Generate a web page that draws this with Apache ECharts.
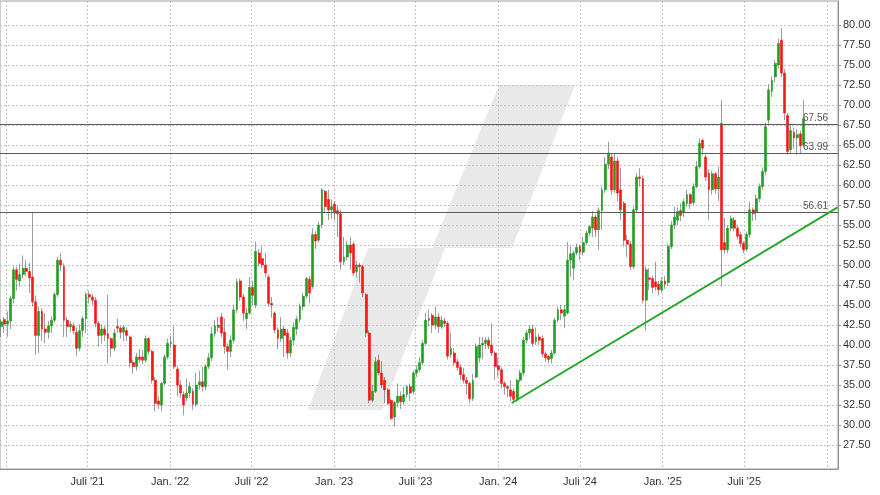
<!DOCTYPE html>
<html><head><meta charset="utf-8">
<script src="https://cdn.jsdelivr.net/npm/echarts@6/dist/echarts.min.js"></script>
<style>html,body{margin:0;padding:0;background:#fff}#c{width:880px;height:495px}</style>
</head><body><div id="c"></div>
<script>
// weekly candles, first week starting Monday 2020-12-21; rows are [open, high, low, close]
const firstWeek = '2020-12-21';
const candles2021 = [
[42.3,43.2,41.0,42.9],[43.2,43.5,41.5,42.6],[42.6,44.2,41.0,43.0],[43.0,46.2,42.0,45.8],[45.8,49.8,45.2,49.4],
[49.4,49.8,46.8,48.2],[48.0,50.2,47.3,48.8],[48.8,51.2,48.3,49.6],[49.6,50.6,48.6,49.2],[49.2,50.3,46.5,48.4],
[48.5,56.5,44.8,45.4],[45.4,46.2,38.8,41.2],[41.2,44.8,39.0,44.2],[44.2,44.6,40.5,42.0],[42.0,44.0,40.2,41.6],
[41.6,43.0,40.8,42.4],[42.4,43.6,41.5,43.1],[43.1,46.6,42.8,46.3],[46.3,51.0,46.0,50.6],[50.6,51.5,49.3,50.0],
[49.8,50.2,41.0,43.1],[43.1,43.5,41.0,42.3],[42.3,43.0,41.6,42.6],[42.4,42.8,41.3,41.8],[41.6,42.2,38.6,39.6],
[39.6,42.6,39.2,41.8],[41.8,43.6,41.0,43.3],[43.3,46.6,41.5,46.3],[46.3,46.8,45.2,46.0],[46.0,46.4,45.0,45.6],
[45.6,46.0,42.2,42.7],[42.7,43.0,39.8,41.2],[41.2,42.6,40.2,42.0],[42.0,42.4,40.5,41.3],[41.4,46.3,37.7,40.8],
[40.8,41.0,38.5,39.6],[39.6,42.0,39.2,41.5],[42.3,43.3,41.5,42.1],[42.1,42.4,40.8,41.6],[41.6,42.5,40.5,42.2],
[41.8,42.2,40.5,41.2],[41.0,41.2,37.2,37.8],[37.8,38.2,36.4,37.3],[37.3,39.0,36.8,38.5],[38.5,39.5,37.8,38.2],
[38.5,39.4,37.6,38.1],[38.1,41.2,37.8,40.8],[40.8,41.0,38.8,39.2],[39.2,39.4,35.2,35.6],[35.6,36.0,31.7,32.7],
[33.0,33.6,32.0,32.6],[32.5,35.4,31.7,35.2],[35.2,38.8,35.0,38.5],[38.5,40.8,38.2,40.2]
];
const candles2022 = [
[40.2,41.2,39.6,40.3],[40.0,42.3,37.0,37.3],[37.0,37.3,33.6,35.0],[35.0,35.6,33.4,34.0],[33.8,34.2,31.2,32.5],
[33.4,35.8,33.0,34.0],[34.0,35.4,33.4,34.8],[34.2,34.6,31.9,32.6],[32.6,36.5,32.3,35.0],[35.0,36.8,34.4,35.4],
[35.4,37.3,34.2,34.8],[34.8,37.6,34.4,37.3],[37.3,39.0,37.0,38.4],[38.4,42.3,38.0,41.4],[41.4,43.1,41.0,42.4],
[42.2,43.5,41.6,42.5],[43.5,44.0,41.0,41.5],[41.6,43.3,38.9,39.8],[39.8,40.2,36.9,39.2],[39.2,41.2,38.5,40.6],
[40.6,45.0,40.2,44.4],[44.4,48.3,44.0,47.9],[48.0,48.3,45.5,46.0],[46.0,46.4,43.0,44.0],[43.3,44.6,42.0,44.0],
[44.0,48.5,43.8,47.2],[47.2,48.0,45.0,46.2],[45.0,52.9,44.6,51.7],[51.5,52.0,49.8,50.2],[50.8,52.3,49.6,50.0],
[50.0,51.5,48.5,49.0],[48.5,48.8,44.8,45.2],[45.2,46.0,43.4,45.0],[44.0,44.2,41.5,41.9],[41.9,42.2,39.5,40.8],
[40.8,43.5,40.4,42.0],[42.0,42.4,38.5,41.2],[41.5,42.0,38.3,39.0],[39.0,41.0,38.5,40.6],[40.6,42.8,40.0,42.2],
[42.0,43.6,41.2,43.2],[43.2,45.2,42.8,44.8],[44.8,46.5,44.3,46.1],[46.1,48.5,45.8,48.3],[48.2,48.6,45.2,46.5],
[47.3,54.6,47.0,53.8],[53.8,54.2,52.0,53.0],[53.1,55.4,52.8,55.0],[55.0,59.6,54.6,59.4],[59.2,59.4,56.5,57.3],
[58.2,59.4,55.6,56.9],[56.9,58.2,55.8,57.3]
];
const candles2023 = [
[57.6,58.0,55.6,56.5],[56.8,57.4,53.5,56.4],[56.4,56.9,49.4,50.4],[50.4,53.5,50.0,51.0],[51.0,53.0,50.6,52.5],
[52.5,53.5,49.4,51.5],[52.6,52.9,48.6,49.0],[49.2,50.6,48.4,50.0],[50.0,50.3,47.8,49.8],[49.8,50.0,46.0,46.5],
[46.3,46.5,41.0,41.5],[41.5,41.8,32.7,33.1],[33.1,35.0,32.8,34.2],[34.2,38.5,34.0,37.9],[38.1,38.8,36.2,36.5],
[36.5,38.0,34.6,35.0],[35.6,36.0,32.7,34.4],[34.4,34.6,32.5,32.7],[33.1,33.3,30.6,30.8],[31.0,33.0,29.8,32.8],
[32.8,35.2,32.2,33.6],[33.6,34.2,32.0,32.9],[32.9,34.8,32.5,33.8],[33.8,35.0,33.4,34.8],[34.8,35.2,33.0,34.0],
[34.2,36.8,33.8,36.5],[36.5,37.4,36.0,36.9],[36.9,38.5,36.6,37.8],[37.8,40.6,37.5,40.2],[40.2,44.0,40.0,43.1],
[43.1,44.4,42.4,43.3],[43.7,44.0,41.5,42.5],[42.5,44.8,42.0,43.5],[43.5,44.0,41.5,42.3],[42.3,43.6,42.0,43.1],
[43.0,43.4,42.2,42.7],[42.7,43.0,38.2,38.6],[38.8,41.5,38.4,39.6],[39.0,39.6,37.4,37.8],[37.9,38.3,36.8,37.2],
[37.2,37.6,35.6,36.3],[36.3,37.1,35.2,35.6],[35.6,36.0,33.8,35.2],[35.2,35.4,32.7,33.3],[33.3,36.4,33.0,35.6],
[36.0,40.2,35.8,39.8],[38.4,41.0,37.8,40.0],[40.0,41.0,38.2,40.2],[40.2,41.0,39.5,40.6],[40.6,41.0,39.5,39.9],
[40.0,42.7,38.6,39.0],[39.0,39.2,35.6,37.3]
];
const candles2024 = [
[37.4,38.4,36.0,36.9],[36.9,37.2,34.6,35.2],[35.2,35.5,33.8,34.8],[34.8,35.0,33.5,34.6],[34.4,35.6,33.0,33.6],
[34.2,34.5,32.7,33.2],[33.1,35.8,32.9,35.6],[35.6,36.9,35.3,36.5],[36.5,41.0,36.2,40.6],[40.6,41.9,40.2,41.5],
[41.5,42.5,40.8,42.0],[42.0,42.5,39.8,40.2],[40.4,42.2,40.0,41.0],[41.0,41.4,40.0,40.6],[40.8,41.2,38.5,38.9],
[38.9,39.2,37.9,38.4],[38.6,38.8,37.7,38.2],[38.3,39.4,37.7,39.0],[39.0,43.4,38.8,43.1],[43.1,44.8,42.8,44.4],
[44.4,45.0,43.1,44.0],[43.6,45.0,42.1,44.4],[44.0,52.9,43.8,50.6],[50.6,52.4,48.5,51.4],[49.6,51.8,48.1,51.5],
[51.5,52.7,51.2,52.2],[52.3,52.6,50.6,51.6],[51.6,53.5,51.2,52.8],[52.8,54.3,52.5,54.0],[54.0,55.0,53.6,54.8],
[54.6,56.8,53.5,56.0],[56.0,56.3,53.5,54.4],[54.4,57.2,51.9,56.8],[56.8,59.8,54.4,59.4],[59.4,63.5,59.0,62.6],
[62.6,65.4,62.0,64.0],[63.5,64.0,58.8,59.4],[59.4,64.0,59.0,63.0],[63.0,63.5,58.0,59.0],[59.4,62.1,55.6,56.9],
[57.7,58.0,52.3,53.1],[53.1,53.8,51.0,52.6],[52.6,53.0,49.4,49.8],[49.8,57.3,49.5,56.9],[56.9,61.5,56.5,61.0],
[61.0,62.1,59.8,60.8],[60.8,61.2,45.2,45.6],[45.6,49.8,41.8,49.4],[48.4,49.6,46.9,48.2],[48.3,48.6,46.5,47.2],
[47.9,50.4,46.8,47.3],[47.6,48.0,46.2,46.9]
];
const candles2025 = [
[46.9,48.5,46.5,48.0],[48.0,48.6,47.0,47.6],[47.8,52.7,47.4,52.3],[52.3,55.5,52.0,55.0],[55.0,57.3,54.5,56.0],
[55.6,57.2,55.0,56.7],[56.8,57.7,55.5,56.2],[56.5,58.3,56.0,57.9],[57.7,59.4,57.3,58.8],[58.8,59.0,57.0,57.7],
[57.8,60.2,57.5,59.8],[59.8,63.0,59.6,62.3],[62.3,65.8,62.0,65.2],[65.6,65.8,63.8,64.6],[63.5,63.8,60.5,61.0],
[61.5,62.0,55.6,59.4],[59.4,61.8,58.8,61.4],[61.4,61.6,58.9,59.5],[59.5,62.3,58.0,61.0],[67.7,70.6,47.3,51.9],
[52.8,55.9,51.4,51.9],[51.9,55.0,51.5,54.6],[54.6,56.2,54.2,55.8],[55.6,56.0,54.2,54.6],[54.6,55.0,53.2,53.6],
[53.8,54.2,52.2,52.7],[52.7,53.0,51.5,51.9],[52.0,54.2,51.7,53.8],[53.8,57.9,53.4,56.9],[56.9,57.2,55.5,56.4],
[56.6,58.8,55.6,58.3],[58.3,60.2,57.9,59.8],[59.8,62.2,59.4,61.7],[61.7,67.8,61.2,67.3],[68.1,72.6,67.6,71.9],
[71.7,73.6,71.0,73.1],[73.5,75.6,72.8,75.2],[75.0,78.3,74.6,77.7],[78.1,79.6,73.5,74.0],[74.0,74.5,68.1,69.0],
[68.7,69.0,63.8,64.2],[64.4,67.5,64.0,66.8],[66.6,67.2,64.5,65.9],[65.9,67.0,63.8,66.3],[66.4,66.8,64.0,64.9],
[65.0,70.6,64.8,68.3]
];
const levelLines = [67.56, 63.99, 56.61];
const trendStart = ['2024-01-31', 32.75];
const trendEnd = ['2026-01-25', 57.2];
const yTicks = [27.5,30,32.5,35,37.5,40,42.5,45,47.5,50,52.5,55,57.5,60,62.5,65,67.5,70,72.5,75,77.5,80];
const xLabelDates = ['2021-07-01','2022-01-01','2022-07-01','2023-01-01','2023-07-01','2024-01-01','2024-07-01','2025-01-01','2025-07-01'];
const xGridDates = ['2021-01-01','2021-07-01','2022-01-01','2022-07-01','2023-01-01','2023-07-01','2024-01-01','2024-07-01','2025-01-01','2025-07-01','2026-01-01'];
const axisStart = '2020-12-18T15:30:00Z';
const axisEnd = '2026-01-25T22:00:00Z';

const DAY = 86400000;
const all = [].concat(candles2021, candles2022, candles2023, candles2024, candles2025);
const t0 = Date.parse(firstWeek);
const wickData = all.map((r, i) => [t0 + i * 7 * DAY, r[0], r[3], r[2], r[1]]);
const bodyData = all.map((r, i) => [t0 + i * 7 * DAY, r[0], r[3], Math.min(r[0], r[3]), Math.max(r[0], r[3])]);

const GREEN = '#1e9e1e', RED = '#ff1414', WICK = '#5a5a5a';
const chart = echarts.init(document.getElementById('c'), null, {renderer: 'canvas'});
chart.setOption({
  animation: false,
  backgroundColor: '#ffffff',
  textStyle: {fontFamily: 'Liberation Sans, Arial, sans-serif'},
  grid: {left: 0, right: 42, top: 1, height: 468, show: true, borderColor: '#a0a0a0', borderWidth: 1, containLabel: false},
  graphic: [{
    type: 'polygon', z: -1, silent: true,
    shape: {points: [[308,410],[382,410],[445,248],[512,248],[575,85],[499,85],[432,248],[368,248]]},
    style: {fill: '#e9e9e9'}
  }],
  xAxis: {
    type: 'value',
    min: Date.parse(axisStart), max: Date.parse(axisEnd),
    axisLine: {show: true, lineStyle: {color: '#909090'}},
    axisTick: {show: false, customValues: xGridDates.map(d => Date.parse(d))},
    axisLabel: {
      customValues: xLabelDates.map(d => Date.parse(d)),
      color: '#333', fontSize: 11, margin: 7,
      formatter: v => { const d = new Date(v); return (d.getUTCMonth() === 0 ? 'Jan. ' : 'Juli ') + "'" + String(d.getUTCFullYear()).slice(2); }
    },
    splitLine: {show: true, lineStyle: {color: '#c4c4c4', type: [2, 2], width: 1}}
  },
  yAxis: {
    type: 'value', position: 'right', min: 24.5, max: 83,
    axisLine: {show: true, lineStyle: {color: '#909090'}},
    axisTick: {show: true, length: 3, customValues: yTicks, lineStyle: {color: '#909090'}},
    axisLabel: {customValues: yTicks, color: '#333', fontSize: 11, margin: 5, formatter: v => v.toFixed(2)},
    splitLine: {show: true, lineStyle: {color: '#c4c4c4', type: [2, 2], width: 1}}
  },
  series: [
    {
      type: 'candlestick', name: 'wick', data: wickData, barWidth: 1, silent: true,
      itemStyle: {color: WICK, color0: WICK, borderColor: WICK, borderColor0: WICK, borderWidth: 0.6}
    },
    {
      type: 'candlestick', name: 'body', data: bodyData, barWidth: 2.4, silent: true,
      itemStyle: {color: GREEN, color0: RED, borderColor: GREEN, borderColor0: RED, borderWidth: 0.6},
      markLine: {
        symbol: 'none', silent: true, animation: false,
        lineStyle: {color: '#5a5a5a', width: 1, type: 'solid'},
        label: {position: 'insideEndTop', distance: [10, 1], color: '#555', fontSize: 10, formatter: p => p.value.toFixed(2)},
        emphasis: {disabled: true},
        data: levelLines.map(v => ({yAxis: v}))
      }
    },
    {
      type: 'line', name: 'trend', silent: true, showSymbol: false, symbol: 'none', z: 5,
      data: [[Date.parse(trendStart[0]), trendStart[1]], [Date.parse(trendEnd[0]), trendEnd[1]]],
      lineStyle: {color: '#2aa62a', width: 2}
    }
  ]
});
</script></body></html>
